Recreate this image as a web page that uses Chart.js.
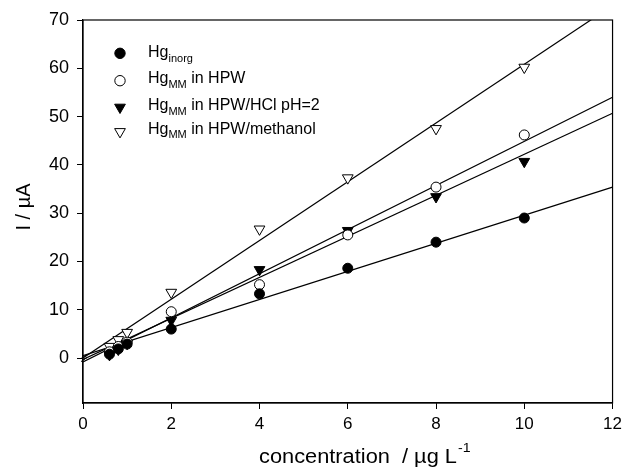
<!DOCTYPE html>
<html>
<head>
<meta charset="utf-8">
<script src="https://cdn.jsdelivr.net/npm/chart.js@4/dist/chart.umd.min.js"></script>
<style>
  html, body { margin: 0; padding: 0; background: #fff; }
  #wrap { width: 627px; height: 467px; }
</style>
</head>
<body>
<div id="wrap"><canvas id="c" width="627" height="467"></canvas></div>
<script>
// ---- data ----
const concentrations = [0.6, 0.8, 1, 2, 4, 6, 8, 10];
const hgInorg      = [0.8, 1.9, 2.9, 6.0, 13.3, 18.6, 24.0, 29.0];
const hgMMHPW      = [1.3, 2.4, 3.3, 9.6, 15.2, 25.5, 35.4, 46.2];
const hgMMHCl      = [0.7, 1.8, 3.0, 7.8, 18.3, 26.4, 33.4, 40.7];
const hgMMMethanol = [2.4, 3.8, 5.3, 13.6, 26.7, 37.3, 47.5, 60.2];

// regression lines: value at x = 0 and x = 12
const fitX        = [0, 12];
const fitInorg    = [0.5, 35.4];
const fitHPW      = [-0.8, 54.0];
const fitHCl      = [-0.3, 50.7];
const fitMethanol = [0.0, 73.0];

const xTicks = [0, 2, 4, 6, 8, 10, 12];
const yTicks = [0, 10, 20, 30, 40, 50, 60, 70];

const legendItems = [
  { main: 'Hg', sub: 'inorg', rest: '', style: 'circle', fill: '#000' },
  { main: 'Hg', sub: 'MM', rest: ' in HPW', style: 'circle', fill: '#fff' },
  { main: 'Hg', sub: 'MM', rest: ' in HPW/HCl pH=2', style: 'triangle', fill: '#000' },
  { main: 'Hg', sub: 'MM', rest: ' in HPW/methanol', style: 'triangle', fill: '#fff' }
];

const FONT = '"Liberation Sans", Arial, Helvetica, sans-serif';

function pts(xs, ys) { return xs.map((x, i) => ({ x: x, y: ys[i] })); }

function markerSet(label, ys, style, fill) {
  return {
    type: 'scatter', label: label, data: pts(concentrations, ys),
    pointStyle: style, rotation: style === 'triangle' ? 180 : 0,
    pointRadius: style === 'triangle' ? 6.2 : 5,
    pointHoverRadius: 6,
    backgroundColor: fill, borderColor: '#000', pointBorderWidth: 1,
    showLine: false, order: 0, clip: false
  };
}
function lineSet(label, ys) {
  return {
    type: 'line', label: label, data: pts(fitX, ys),
    borderColor: '#000', borderWidth: 1.2, pointRadius: 0,
    fill: false, tension: 0, order: 10, clip: 0
  };
}

const decor = {
  id: 'decor',
  afterDraw(chart) {
    const ctx = chart.ctx, a = chart.chartArea;
    ctx.save();
    // box
    ctx.strokeStyle = '#000'; ctx.lineWidth = 1.2;
    ctx.strokeRect(a.left, a.top, a.right - a.left, a.bottom - a.top);
    // axis break mark near zero
    const y0 = chart.scales.y.getPixelForValue(0);
    ctx.lineWidth = 1;
    for (const d of [-1.5, 1.5]) {
      ctx.beginPath();
      ctx.moveTo(a.left - 2, y0 + d + 2);
      ctx.lineTo(a.left + 4, y0 + d - 2);
      ctx.stroke();
    }
    // legend
    const lx = 120, tx = 148;
    const markY = [53.3, 80.7, 107.3, 131.7];
    const baseY = [57.3, 83.3, 110, 133.5];
    legendItems.forEach((it, i) => {
      const y = markY[i];
      ctx.fillStyle = it.fill; ctx.strokeStyle = '#000'; ctx.lineWidth = 1;
      ctx.beginPath();
      if (it.style === 'circle') {
        ctx.arc(lx, y, 5.2, 0, Math.PI * 2);
      } else {
        const r = 6.2;
        ctx.moveTo(lx - r * 0.866, y - r * 0.5);
        ctx.lineTo(lx + r * 0.866, y - r * 0.5);
        ctx.lineTo(lx, y + r);
        ctx.closePath();
      }
      ctx.fill(); ctx.stroke();
      ctx.fillStyle = '#000'; ctx.textBaseline = 'alphabetic'; ctx.textAlign = 'left';
      ctx.font = '16px ' + FONT;
      const base = baseY[i];
      let x = tx;
      ctx.fillText(it.main, x, base); x += ctx.measureText(it.main).width;
      ctx.font = '11px ' + FONT;
      ctx.fillText(it.sub, x, base + 4.5); x += ctx.measureText(it.sub).width;
      ctx.font = '16px ' + FONT;
      ctx.fillText(it.rest, x, base);
    });
    // axis titles
    ctx.fillStyle = '#000';
    ctx.save();
    ctx.translate(30, 207);
    ctx.rotate(-Math.PI / 2);
    ctx.font = '20px ' + FONT; ctx.textAlign = 'center'; ctx.textBaseline = 'alphabetic';
    ctx.fillText('I / \u00b5A', 0, 0);
    ctx.restore();
    const m = 'concentration  / \u00b5g L', s = '-1';
    ctx.save();
    ctx.translate(259, 463);
    ctx.scale(1.09, 1);
    ctx.textAlign = 'left';
    ctx.font = '20px ' + FONT;
    const wm = ctx.measureText(m).width;
    ctx.fillText(m, 0, 0);
    ctx.font = '13px ' + FONT;
    ctx.fillText(s, wm + 1, -11);
    ctx.restore();
    ctx.restore();
  }
};

new Chart(document.getElementById('c'), {
  type: 'scatter',
  data: {
    datasets: [
      markerSet('Hg inorg', hgInorg, 'circle', '#000'),
      markerSet('Hg MM in HPW', hgMMHPW, 'circle', '#fff'),
      markerSet('Hg MM in HPW/HCl pH=2', hgMMHCl, 'triangle', '#000'),
      markerSet('Hg MM in HPW/methanol', hgMMMethanol, 'triangle', '#fff'),
      lineSet('fit inorg', fitInorg),
      lineSet('fit HPW', fitHPW),
      lineSet('fit HCl', fitHCl),
      lineSet('fit methanol', fitMethanol)
    ]
  },
  options: {
    responsive: false, animation: false, devicePixelRatio: 1,
    layout: { padding: { top: 20, right: 13, left: 0, bottom: 0 } },
    plugins: { legend: { display: false }, tooltip: { enabled: false } },
    scales: {
      x: {
        type: 'linear', min: 0, max: 12,
        afterBuildTicks: s => { s.ticks = xTicks.map(v => ({ value: v })); },
        afterFit: s => { s.height = 64; },
        grid: { display: true, drawOnChartArea: false, drawTicks: true, tickLength: 6, color: '#000', lineWidth: 1 },
        border: { display: true, color: '#000', width: 1.2 },
        ticks: { color: '#000', font: { family: FONT, size: 17 }, padding: 5, maxRotation: 0 }
      },
      y: {
        type: 'linear', min: -9.3, max: 70,
        afterBuildTicks: s => { s.ticks = yTicks.map(v => ({ value: v })); },
        afterFit: s => { s.width = 83; },
        grid: { display: true, drawOnChartArea: false, drawTicks: true, tickLength: 6, color: '#000', lineWidth: 1 },
        border: { display: true, color: '#000', width: 1.2 },
        ticks: { color: '#000', font: { family: FONT, size: 18 }, padding: 8 }
      }
    }
  },
  plugins: [decor]
});
</script>
</body>
</html>
